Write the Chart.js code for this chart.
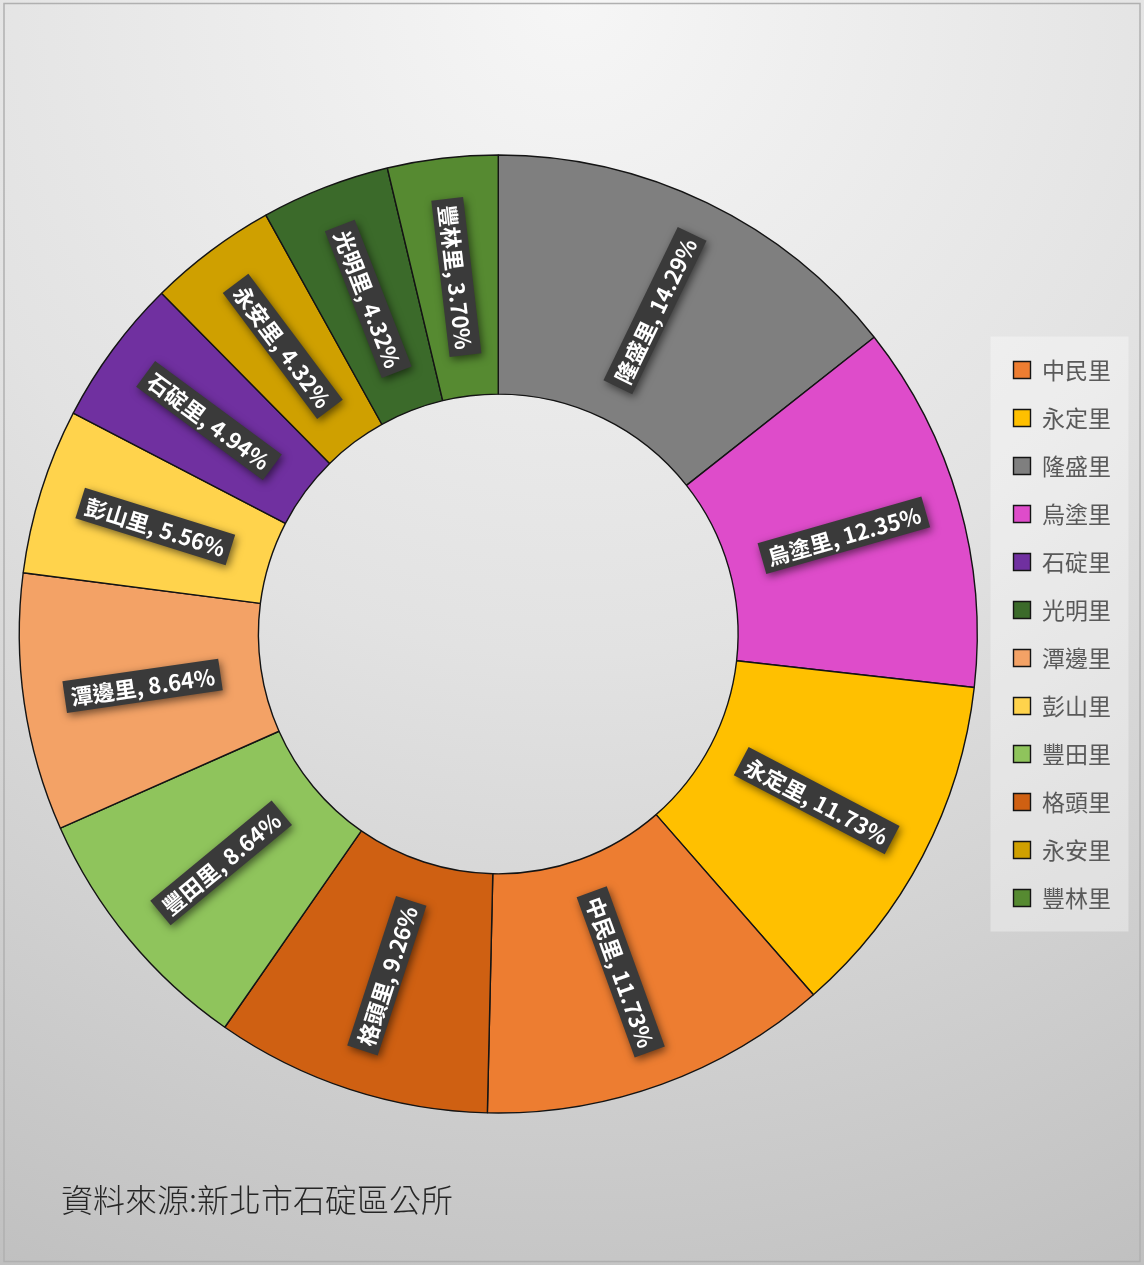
<!DOCTYPE html>
<html>
<head>
<meta charset="utf-8">
<script src="https://cdn.jsdelivr.net/npm/chart.js@4.4.0/dist/chart.umd.min.js"></script>
<style>
  html, body { margin: 0; padding: 0; background: #ffffff; }
  #wrap { position: relative; width: 1144px; height: 1265px; }
</style>
</head>
<body>
<div id="wrap"><canvas id="chart_villageShare"></canvas></div>
<script>
// slices clockwise from 12 o'clock
var villages = ['隆盛里', '烏塗里', '永定里', '中民里', '格頭里', '豐田里', '潭邊里', '彭山里', '石碇里', '永安里', '光明里', '豐林里'];
var shares = [14.29, 12.35, 11.73, 11.73, 9.26, 8.64, 8.64, 5.56, 4.94, 4.32, 4.32, 3.70];
var sliceColors = ['#7f7f7f', '#de4cca', '#ffc000', '#ed7d31', '#cf6012', '#8fc45c', '#f3a266', '#ffd34c', '#7030a0', '#cfa000', '#3b6a2a', '#568a31'];
var legendOrder = ['中民里', '永定里', '隆盛里', '烏塗里', '石碇里', '光明里', '潭邊里', '彭山里', '豐田里', '格頭里', '永安里', '豐林里'];
var sourceNote = '資料來源:新北市石碇區公所';

var CJK = '"Noto Sans CJK TC", "Noto Sans", sans-serif';

var chart_villageShare = new Chart(document.getElementById('chart_villageShare'), {
    type: 'doughnut',
    data: {
        labels: villages,
        datasets: [{
            data: shares,
            backgroundColor: sliceColors,
            borderColor: '#141414',
            borderWidth: 1.4,
            radius: 479,
            cutout: 240
        }]
    },
    options: {
        animation: false,
        responsive: true,
        maintainAspectRatio: false,
        layout: {
            padding: { top: 154, bottom: 151, left: 8, right: 23 }
        },
        plugins: {
            tooltip: { enabled: false },
            legend: {
                position: 'right',
                labels: {
                    font: { family: CJK, size: 23 },
                    color: '#595959',
                    boxWidth: 17,
                    boxHeight: 17,
                    padding: 25,
                    sort: function(a, b) {
                        return legendOrder.indexOf(a.text) - legendOrder.indexOf(b.text);
                    }
                }
            }
        }
    },
    plugins: [{
        id: 'backdrop',
        beforeDraw: (chart) => {
            const ctx = chart.ctx;
            const w = chart.width, h = chart.height;
            ctx.save();
            const g = ctx.createRadialGradient(w * 0.5, 0, 0, w * 0.5, 0, h * 1.15);
            g.addColorStop(0, '#f6f6f6');
            g.addColorStop(0.45, '#e2e2e2');
            g.addColorStop(1, '#bdbdbd');
            ctx.fillStyle = g;
            ctx.fillRect(0, 0, w, h);
            ctx.strokeStyle = '#b0b0b0';
            ctx.lineWidth = 1.5;
            ctx.strokeRect(4, 3.5, w - 8, h - 7);

            // legend panel
            const lg = chart.legend;
            if (lg && lg.legendHitBoxes && lg.legendHitBoxes.length) {
                const hb = lg.legendHitBoxes;
                const top = hb[0].top - 22;
                const bottom = hb[hb.length - 1].top + hb[hb.length - 1].height + 22;
                ctx.fillStyle = 'rgba(255,255,255,0.35)';
                ctx.fillRect(hb[0].left - 23, top, 138, bottom - top);
            }
            ctx.restore();
        }
    }, {
        id: 'sliceLabels',
        afterDatasetsDraw: (chart) => {
            const ctx = chart.ctx;
            const meta = chart.getDatasetMeta(0);
            ctx.save();
            ctx.font = 'bold 22px ' + CJK;
            ctx.textAlign = 'center';
            ctx.textBaseline = 'middle';
            meta.data.forEach((arc, i) => {
                const p = arc.getProps(['x', 'y', 'startAngle', 'endAngle', 'innerRadius', 'outerRadius']);
                const mid = (p.startAngle + p.endAngle) / 2;
                const r = (p.innerRadius + p.outerRadius) / 2;
                const cx = p.x + Math.cos(mid) * r;
                const cy = p.y + Math.sin(mid) * r;
                let rot = mid;
                if (Math.cos(mid) < -0.0001) rot += Math.PI;
                const text = villages[i] + ', ' + shares[i].toFixed(2) + '%';
                const tw = ctx.measureText(text).width;
                const bw = tw + 12, bh = 32;
                ctx.save();
                ctx.translate(cx, cy);
                ctx.rotate(rot);
                ctx.shadowColor = 'rgba(0,0,0,0.55)';
                ctx.shadowBlur = 8;
                ctx.shadowOffsetX = 2;
                ctx.shadowOffsetY = 3;
                ctx.fillStyle = '#3a3a3a';
                ctx.fillRect(-bw / 2, -bh / 2, bw, bh);
                ctx.shadowColor = 'transparent';
                ctx.fillStyle = '#ffffff';
                ctx.fillText(text, 0, 1);
                ctx.restore();
            });
            ctx.restore();
        }
    }, {
        id: 'sourceNote',
        afterDraw: (chart) => {
            const ctx = chart.ctx;
            ctx.save();
            ctx.font = '300 32px ' + CJK;
            ctx.fillStyle = '#262626';
            ctx.textAlign = 'left';
            ctx.textBaseline = 'alphabetic';
            ctx.fillText(sourceNote, 61, 1212);
            ctx.restore();
        }
    }]
});
</script>
</body>
</html>
